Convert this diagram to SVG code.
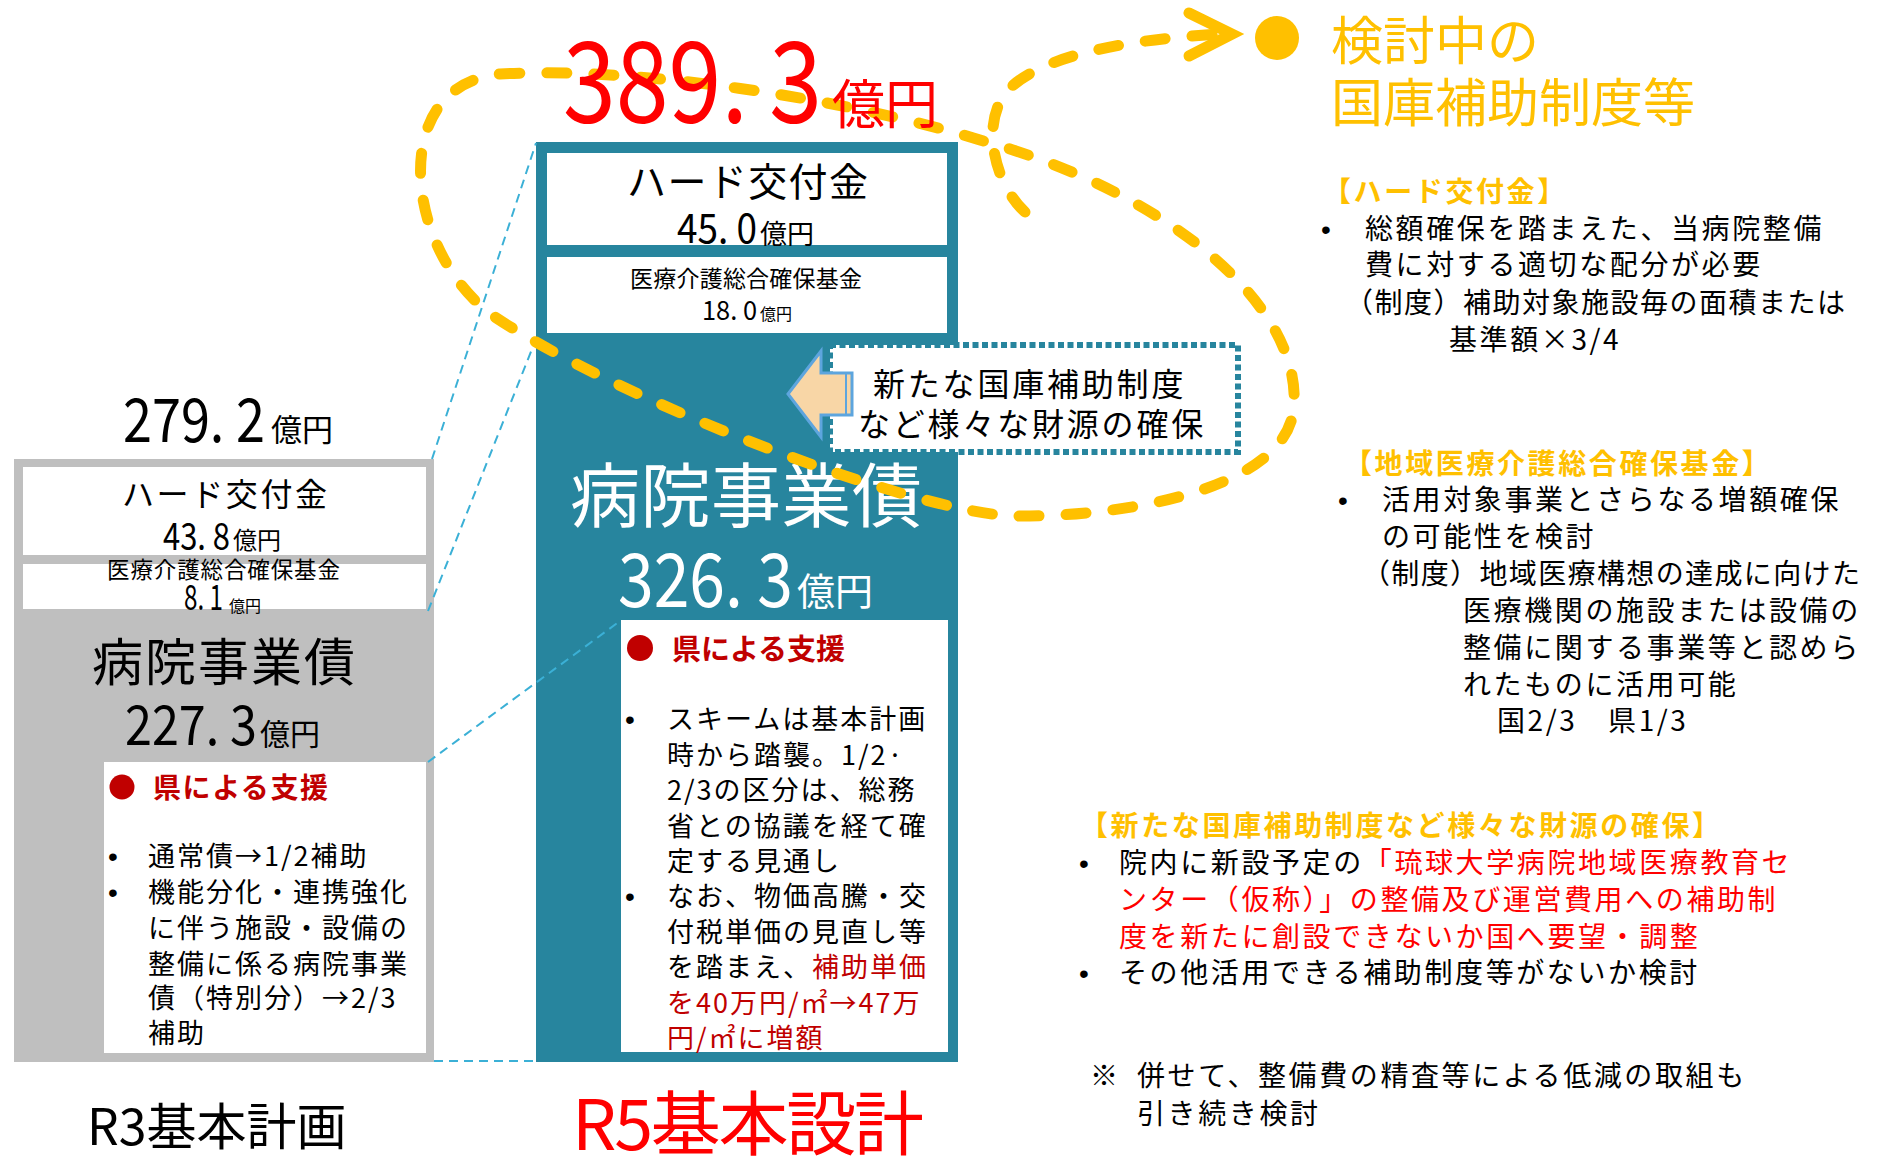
<svg xmlns="http://www.w3.org/2000/svg" width="1881" height="1156" viewBox="0 0 1881 1156">
<style>
text{font-family:"Noto Sans CJK JP","Noto Sans",sans-serif;}
.blk{fill:#000}
.wht{fill:#fff}
.dred{fill:#C00000}
.red{fill:#FF0000}
.ylw{fill:#FFC000}
.bul{font-family:"Liberation Sans",sans-serif;font-size:28px;fill:#000}
.p27{font-size:27px;letter-spacing:2px}
.p28{font-size:28px;letter-spacing:2.6px}
.hd{font-size:28px;font-weight:bold;fill:#FFC000;letter-spacing:2.6px}
.teal{fill:#27859E}
.cy{fill:none;stroke:#3BB0D6;stroke-width:2;stroke-dasharray:9 6}
.yd{fill:none;stroke:#FFC000;stroke-width:11;stroke-linecap:round;stroke-dasharray:20 27}
</style>

<g id="r3-plan">
  <rect x="14" y="459" width="420" height="603" fill="#BFBFBF"/>
  <rect x="23" y="467" width="403" height="88" fill="#fff"/>
  <rect x="23" y="564" width="403" height="45" fill="#fff"/>
  <rect x="104" y="762" width="322" height="291" fill="#fff"/>
  <text class="blk" x="123" y="442" font-size="61" textLength="142" lengthAdjust="spacingAndGlyphs">279. 2</text>
  <text class="blk" x="271" y="441" font-size="31">億円</text>
  <text class="blk" x="122" y="506" font-size="32" textLength="205">ハード交付金</text>
  <text class="blk" x="163" y="550" font-size="38" textLength="67" lengthAdjust="spacingAndGlyphs">43. 8</text>
  <text class="blk" x="233" y="549" font-size="24">億円</text>
  <text class="blk" x="107" y="578" font-size="22.5" textLength="233">医療介護総合確保基金</text>
  <text class="blk" x="184" y="610" font-size="35" textLength="39" lengthAdjust="spacingAndGlyphs">8. 1</text>
  <text class="blk" x="229" y="612" font-size="16">億円</text>
  <text class="blk" x="92" y="681" font-size="51" textLength="263">病院事業債</text>
  <text class="blk" x="125" y="745" font-size="55" textLength="132" lengthAdjust="spacingAndGlyphs">227. 3</text>
  <text class="blk" x="260" y="745" font-size="30">億円</text>
  <circle cx="122" cy="787" r="12.5" fill="#C00000"/>
  <text class="dred" x="153" y="798" font-size="28" font-weight="bold" textLength="175">県による支援</text>
  <text class="bul" x="108" y="866">•</text>
  <text class="bul" x="108" y="902">•</text>
  <text class="blk p27" x="148" y="866">通常債→1/2補助</text>
  <text class="blk p27" x="148" y="902">機能分化・連携強化</text>
  <text class="blk p27" x="148" y="938">に伴う施設・設備の</text>
  <text class="blk p27" x="148" y="974">整備に係る病院事業</text>
  <text class="blk p27" x="148" y="1008">債（特別分）→2/3</text>
  <text class="blk p27" x="148" y="1043">補助</text>
  <text class="blk" x="87" y="1145" font-size="50">R3基本計画</text>
</g>

<g id="r5-design">
  <rect class="teal" x="536" y="142" width="422" height="920"/>
  <rect x="547" y="153" width="400" height="92" fill="#fff"/>
  <rect x="547" y="257" width="400" height="76" fill="#fff"/>
  <rect x="621" y="620" width="327" height="432" fill="#fff"/>
  <text class="blk" x="627" y="196" font-size="39" textLength="241">ハード交付金</text>
  <text class="blk" x="677" y="243" font-size="41" textLength="80" lengthAdjust="spacingAndGlyphs">45. 0</text>
  <text class="blk" x="760" y="244" font-size="27">億円</text>
  <text class="blk" x="630" y="287" font-size="23" textLength="232">医療介護総合確保基金</text>
  <text class="blk" x="702" y="320" font-size="27" textLength="55" lengthAdjust="spacingAndGlyphs">18. 0</text>
  <text class="blk" x="760" y="320" font-size="16">億円</text>
  <text class="wht" x="570" y="522" font-size="70" textLength="352">病院事業債</text>
  <text class="wht" x="618" y="607" font-size="74" textLength="175" lengthAdjust="spacingAndGlyphs">326. 3</text>
  <text class="wht" x="797" y="605" font-size="38">億円</text>
  <circle cx="640" cy="648" r="13" fill="#C00000"/>
  <text class="dred" x="672" y="660" font-size="29" font-weight="bold" textLength="173">県による支援</text>
  <text class="bul" x="625" y="729">•</text>
  <text class="bul" x="625" y="906">•</text>
  <text class="blk p27" x="667" y="729">スキームは基本計画</text>
  <text class="blk p27" x="667" y="765">時から踏襲。1/2·</text>
  <text class="blk p27" x="667" y="800">2/3の区分は、総務</text>
  <text class="blk p27" x="667" y="836">省との協議を経て確</text>
  <text class="blk p27" x="667" y="871">定する見通し</text>
  <text class="blk p27" x="667" y="906">なお、物価高騰・交</text>
  <text class="blk p27" x="667" y="942">付税単価の見直し等</text>
  <text class="blk p27" x="667" y="977">を踏まえ、<tspan class="dred">補助単価</tspan></text>
  <text class="dred p27" x="667" y="1013">を40万円/㎡→47万</text>
  <text class="dred p27" x="667" y="1048">円/㎡に増額</text>
  <text class="red" x="572" y="1150" font-size="70" textLength="352">R5基本設計</text>
</g>

<g id="new-funding">
  <rect x="830" y="345" width="408" height="107" fill="#fff" stroke="#27859E" stroke-width="6" stroke-dasharray="6 3.5"/>
  <polygon points="788,394 821,351 821,373 852,373 852,415 821,415 821,437" fill="#F8D6A6" stroke="#5DA5DE" stroke-width="3" stroke-linejoin="miter"/>
  <line x1="846" y1="374" x2="846" y2="414" stroke="#5DA5DE" stroke-width="2"/>
  <text class="blk" x="873" y="396" font-size="32" letter-spacing="2.8">新たな国庫補助制度</text>
  <text class="blk" x="858" y="436" font-size="32" letter-spacing="2.8">など様々な財源の確保</text>
</g>

<g id="connectors">
  <line class="cy" x1="432" y1="459" x2="536" y2="143"/>
  <line class="cy" x1="428" y1="611" x2="538" y2="334"/>
  <line class="cy" x1="428" y1="762" x2="620" y2="621"/>
  <line class="cy" x1="434" y1="1061" x2="536" y2="1061"/>
  <path class="yd" d="M500,74 C640,66 850,100 980,140 C1160,190 1300,300 1294,405 C1290,490 1120,518 1010,516 C900,508 620,400 495,317 C405,255 385,85 500,74 Z"/>
  <path class="yd" d="M1025,212 C995,185 978,120 1010,88 C1050,50 1150,38 1222,34"/>
  <polyline points="1189,13 1232,34 1189,56" fill="none" stroke="#FFC000" stroke-width="11" stroke-linecap="round" stroke-linejoin="miter"/>
</g>

<g id="total-r5">
  <text class="red" x="563" y="123" font-size="113" textLength="259" lengthAdjust="spacingAndGlyphs">389. 3</text>
  <text class="red" x="832" y="124" font-size="53">億円</text>
</g>

<g id="review-panel">
  <circle cx="1277" cy="38" r="22" fill="#FFC000"/>
  <text class="ylw" x="1331" y="60" font-size="52">検討中の</text>
  <text class="ylw" x="1331" y="122" font-size="52">国庫補助制度等</text>

  <text class="hd" x="1323" y="202">【ハード交付金】</text>
  <text class="bul" x="1321" y="239">•</text>
  <text class="blk p28" x="1365" y="239">総額確保を踏まえた、当病院整備</text>
  <text class="blk p28" x="1365" y="275">費に対する適切な配分が必要</text>
  <text class="blk" x="1345" y="313" font-size="28" textLength="500">（制度）補助対象施設毎の面積または</text>
  <text class="blk p28" x="1449" y="350">基準額×3/4</text>

  <text class="hd" x="1344" y="474">【地域医療介護総合確保基金】</text>
  <text class="bul" x="1338" y="510">•</text>
  <text class="blk p28" x="1382" y="510">活用対象事業とさらなる増額確保</text>
  <text class="blk p28" x="1382" y="547">の可能性を検討</text>
  <text class="blk" x="1362" y="584" font-size="28" textLength="498">（制度）地域医療構想の達成に向けた</text>
  <text class="blk p28" x="1463" y="621">医療機関の施設または設備の</text>
  <text class="blk p28" x="1463" y="658">整備に関する事業等と認めら</text>
  <text class="blk p28" x="1463" y="695">れたものに活用可能</text>
  <text class="blk p28" x="1497" y="731">国2/3　県1/3</text>

  <text class="hd" x="1080" y="836" letter-spacing="1.5">【新たな国庫補助制度など様々な財源の確保】</text>
  <text class="bul" x="1079" y="873">•</text>
  <text class="blk p28" x="1119" y="873">院内に新設予定の<tspan class="red">「琉球大学病院地域医療教育セ</tspan></text>
  <text class="red p28" x="1119" y="910">ンター（仮称）」の整備及び運営費用への補助制</text>
  <text class="red p28" x="1119" y="947">度を新たに創設できないか国へ要望・調整</text>
  <text class="bul" x="1079" y="983">•</text>
  <text class="blk p28" x="1119" y="983">その他活用できる補助制度等がないか検討</text>
  <text class="blk p28" y="1086"><tspan x="1090">※</tspan><tspan x="1137">併せて、整備費の精査等による低減の取組も</tspan></text>
  <text class="blk p28" x="1137" y="1124">引き続き検討</text>
</g>
</svg>
